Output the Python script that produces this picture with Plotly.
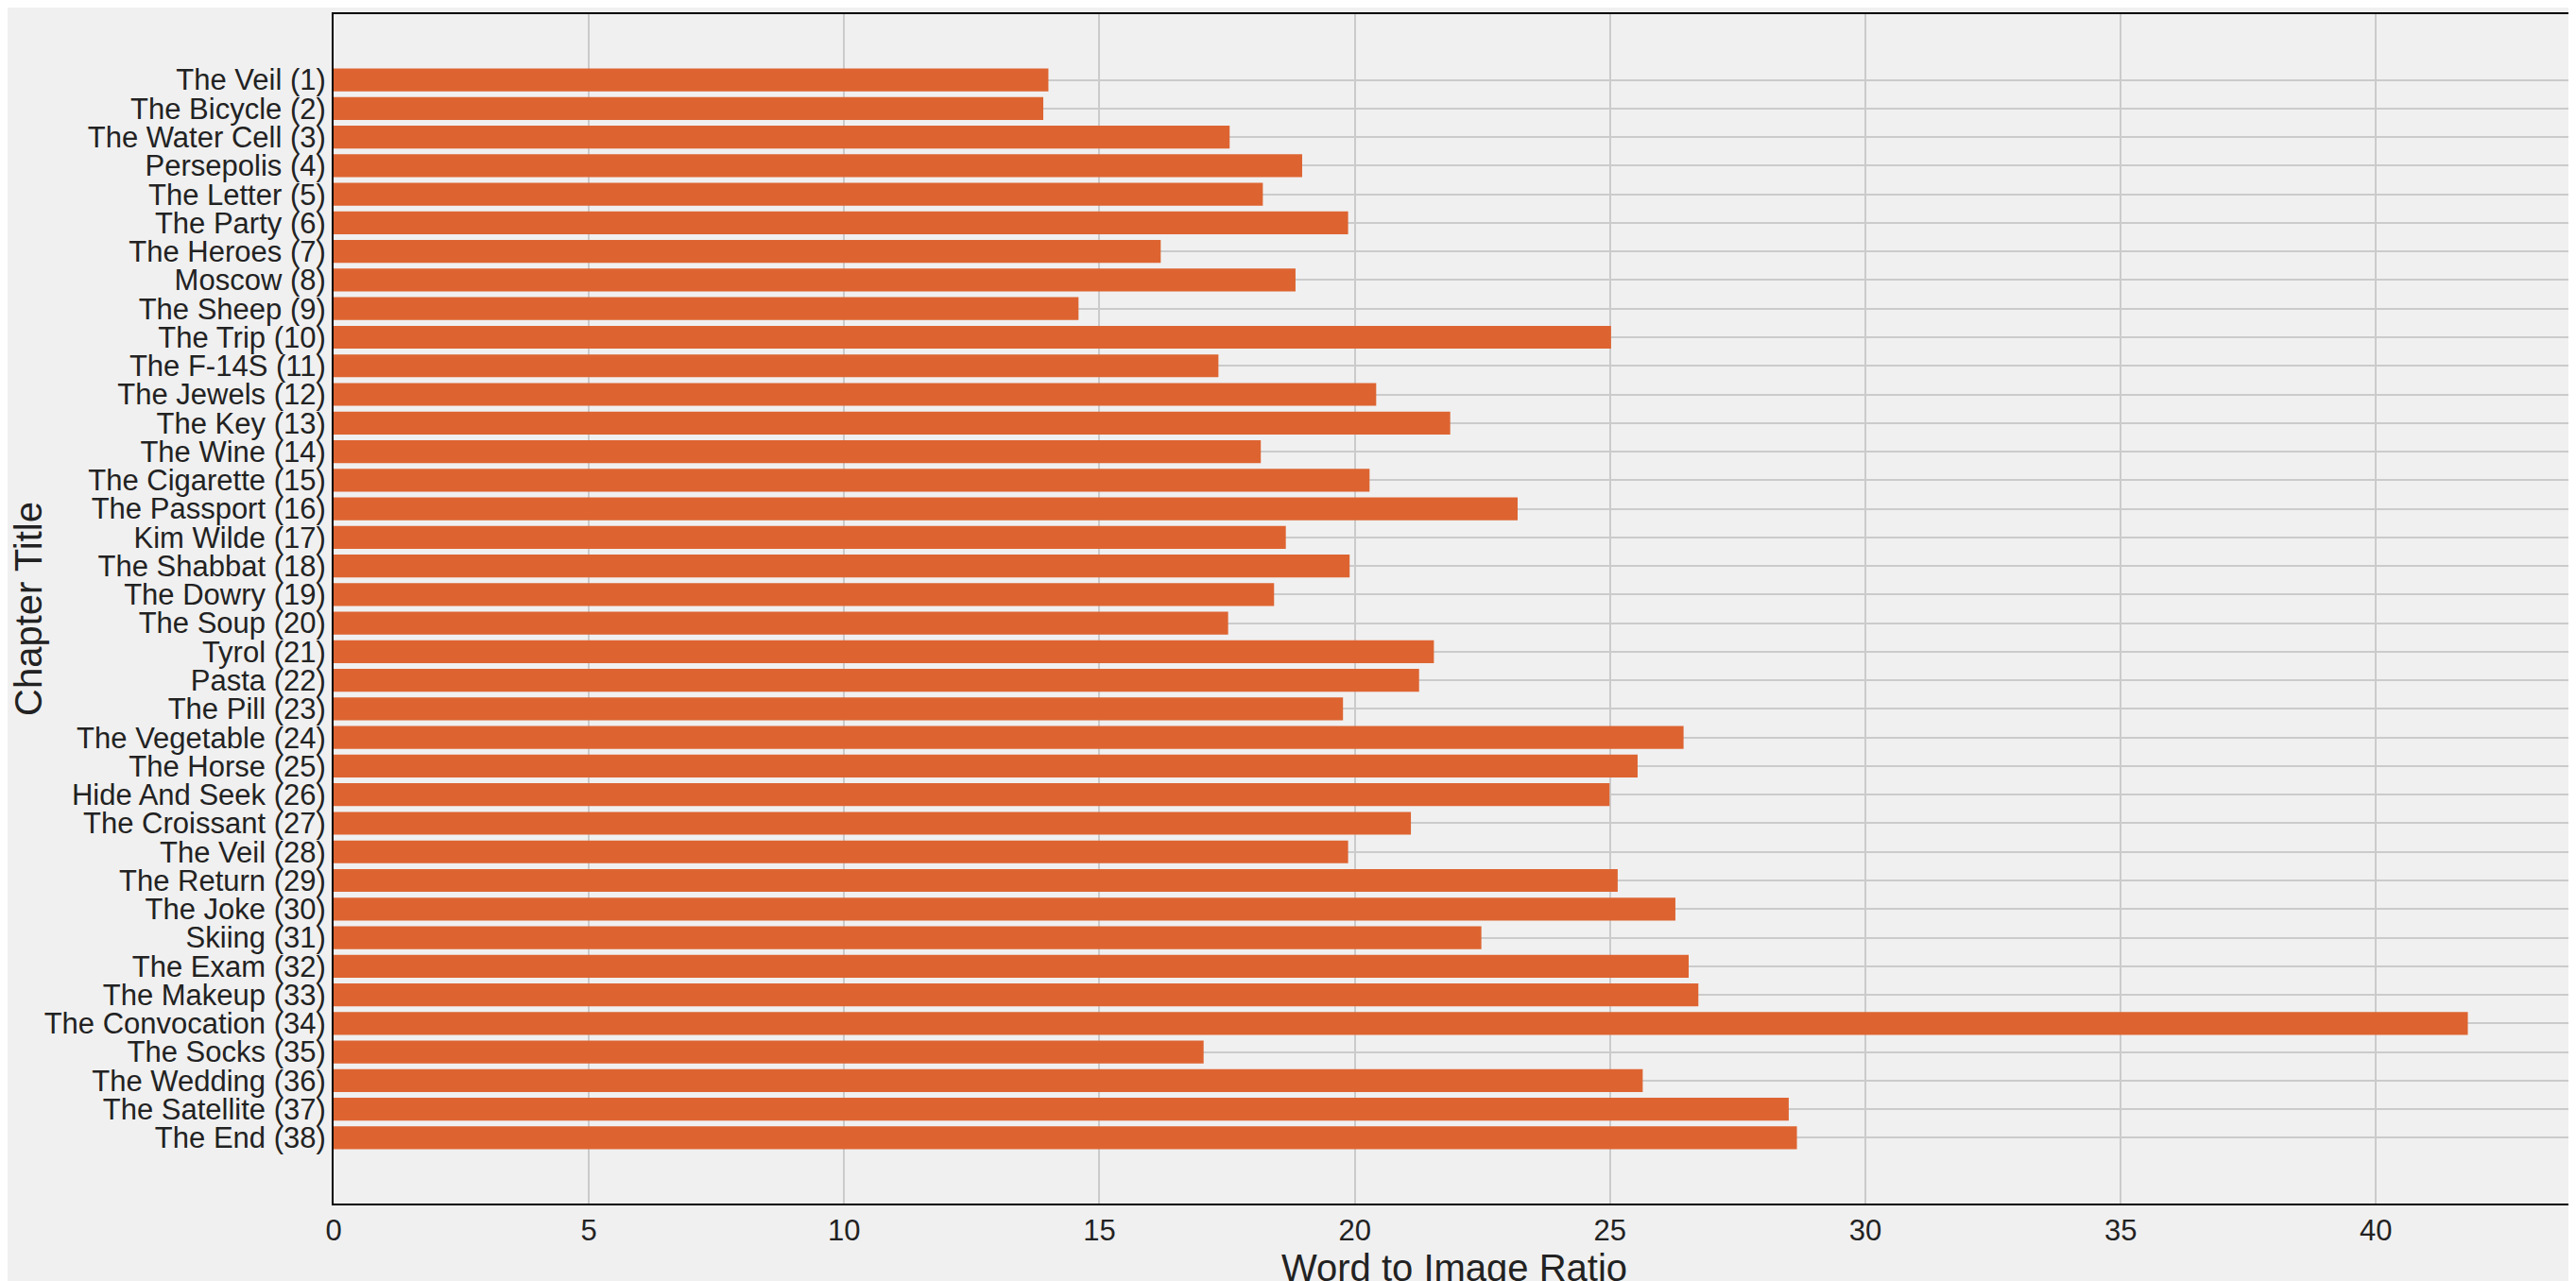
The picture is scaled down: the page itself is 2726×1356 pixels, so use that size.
import plotly.graph_objects as go

titles = ["The Veil (1)","The Bicycle (2)","The Water Cell (3)","Persepolis (4)","The Letter (5)",
"The Party (6)","The Heroes (7)","Moscow (8)","The Sheep (9)","The Trip (10)","The F-14S (11)",
"The Jewels (12)","The Key (13)","The Wine (14)","The Cigarette (15)","The Passport (16)",
"Kim Wilde (17)","The Shabbat (18)","The Dowry (19)","The Soup (20)","Tyrol (21)","Pasta (22)",
"The Pill (23)","The Vegetable (24)","The Horse (25)","Hide And Seek (26)","The Croissant (27)",
"The Veil (28)","The Return (29)","The Joke (30)","Skiing (31)","The Exam (32)","The Makeup (33)",
"The Convocation (34)","The Socks (35)","The Wedding (36)","The Satellite (37)","The End (38)"]
ratios = [14.0,13.9,17.55,18.97,18.2,19.87,16.2,18.84,14.59,25.02,17.33,20.42,21.87,18.16,20.29,
23.19,18.65,19.9,18.42,17.52,21.55,21.26,19.77,26.44,25.54,24.99,21.1,19.87,25.15,26.28,22.48,
26.54,26.73,41.8,17.04,25.64,28.5,28.66]

pos = list(range(len(titles)))
fig = go.Figure(go.Bar(x=ratios, y=pos, orientation="h", width=0.8,
                       marker=dict(color="#dd6431", line=dict(width=0))))
fig.update_layout(
    width=2726, height=1356, paper_bgcolor="#f0f0f0", plot_bgcolor="#f0f0f0",
    margin=dict(l=339, r=9, t=5, b=90),
    font=dict(family="Liberation Sans, Arial", size=31, color="#222"),
    showlegend=False,
)
fig.update_xaxes(range=[0, 43.9], dtick=5, showgrid=True, gridcolor="#cbcbcb", gridwidth=1.5,
                 zeroline=False, showline=True, linecolor="black", linewidth=2, mirror=True,
                 ticks="", title=dict(text="Word to Image Ratio", font=dict(size=40), standoff=0))
fig.update_yaxes(range=[len(titles)-1+2.3, -2.3], tickvals=pos, ticktext=titles,
                 showgrid=True, gridcolor="#cbcbcb", gridwidth=1.5, zeroline=False,
                 showline=True, linecolor="black", linewidth=2, mirror=True, ticks="",
                 title=dict(text="Chapter Title", font=dict(size=40), standoff=6))
fig.write_html("out.html")
